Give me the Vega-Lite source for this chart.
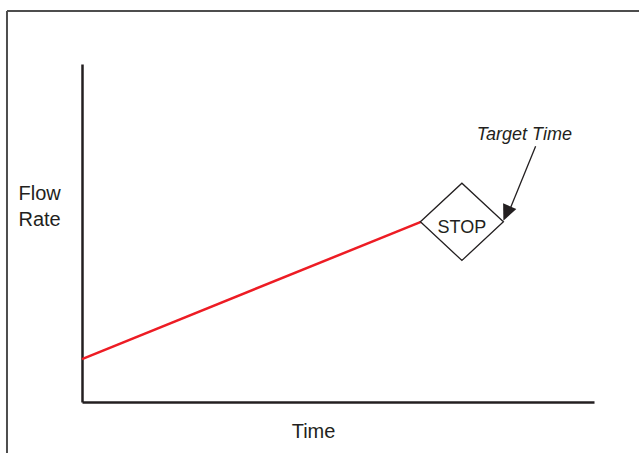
{
  "$schema": "https://vega.github.io/schema/vega-lite/v6.json",
  "width": 512,
  "height": 338,
  "autosize": {"type": "none"},
  "padding": {"left": 82, "top": 64, "right": 45, "bottom": 51},
  "background": "white",
  "view": {"stroke": null},
  "config": {
    "font": "Liberation Sans",
    "axis": {"grid": false, "ticks": false, "labels": false, "domainColor": "#231f20", "domainWidth": 2.5, "titleFont": "Liberation Sans", "titleFontSize": 20, "titleFontWeight": "normal", "titleColor": "#231f20"}
  },
  "encoding": {
    "x": {"field": "time", "type": "quantitative", "scale": {"domain": [0, 100], "nice": false, "zero": false},
      "axis": {"title": "Time", "titleX": 231, "titleY": 35, "titleAlign": "center", "titleBaseline": "alphabetic", "titleAnchor": null}},
    "y": {"field": "flow", "type": "quantitative", "scale": {"domain": [0, 100], "nice": false, "zero": false},
      "axis": {"title": ["Flow", "Rate"], "titleAngle": 0, "titleX": -64, "titleY": 135, "titleAlign": "left", "titleBaseline": "alphabetic", "titleLineHeight": 26, "titleAnchor": null}}
  },
  "layer": [
    {
      "data": {"values": [{"time": 0, "flow": 12.7}, {"time": 66.2, "flow": 53.3}]},
      "mark": {"type": "line", "color": "#ed1c24", "strokeWidth": 2.5}
    },
    {
      "data": {"values": [{"time": 74.2, "flow": 53.3}]},
      "mark": {"type": "point", "shape": "M-1,0L0,-0.93L1,0L0,0.93Z", "size": 6889, "filled": true, "fill": "white", "stroke": "#231f20", "strokeWidth": 1.3, "opacity": 1}
    },
    {
      "data": {"values": [{"time": 74.2, "flow": 49.9, "label": "STOP"}]},
      "mark": {"type": "text", "font": "Liberation Sans", "fontSize": 18, "color": "#231f20", "align": "center", "baseline": "alphabetic"},
      "encoding": {"text": {"field": "label"}}
    },
    {
      "data": {"values": [{"time": 88.6, "flow": 75.7, "time2": 83.3, "flow2": 56.0}]},
      "mark": {"type": "rule", "color": "#231f20", "strokeWidth": 1.3},
      "encoding": {"x2": {"field": "time2"}, "y2": {"field": "flow2"}}
    },
    {
      "data": {"values": [{"time": 82.3, "flow": 53.6}]},
      "mark": {"type": "point", "shape": "M0,0L-0.45,1L0.45,1Z", "size": 1024, "angle": 203.4, "filled": true, "color": "#231f20", "opacity": 1, "strokeWidth": 0}
    },
    {
      "data": {"values": [{"time": 77.1, "flow": 77.5, "label": "Target Time"}]},
      "mark": {"type": "text", "font": "Liberation Sans", "fontSize": 18, "fontStyle": "italic", "color": "#231f20", "align": "left", "baseline": "alphabetic"},
      "encoding": {"text": {"field": "label"}}
    },
    {
      "data": {"values": [
        {"time": -14.65, "flow": 115.7, "time2": 110, "flow2": 115.7},
        {"time": -14.65, "flow": 115.7, "time2": -14.65, "flow2": -16}
      ]},
      "mark": {"type": "rule", "color": "#4d4d4d", "strokeWidth": 2},
      "encoding": {"x2": {"field": "time2"}, "y2": {"field": "flow2"}}
    }
  ]
}
